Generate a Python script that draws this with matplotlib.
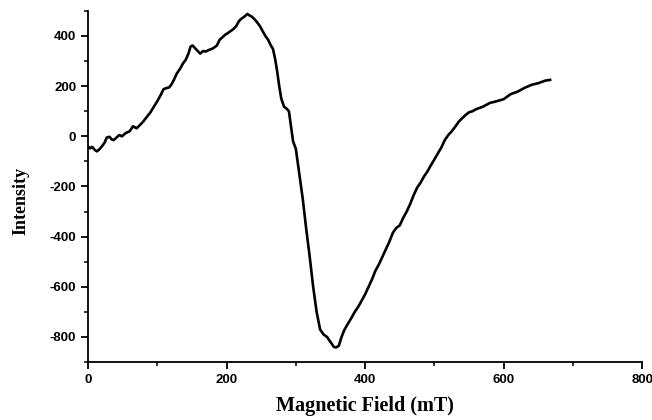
import matplotlib
matplotlib.use("Agg")
import matplotlib.pyplot as plt
from matplotlib.ticker import MultipleLocator

plt.rcParams["axes.unicode_minus"] = False

# EPR spectrum
field_mT = [0, 3, 6, 10, 13, 17, 20, 24, 27, 31, 34, 37, 41, 45, 49, 53, 56, 60,
            65, 70, 75, 80, 85, 90, 95, 100, 105, 109, 113, 117, 120, 124, 128,
            133, 137, 141, 145, 148, 151, 155, 159, 162, 166, 170, 175, 180, 186,
            190, 194, 198, 202, 206, 210, 214, 218, 222, 226, 230, 233, 236, 240,
            244, 248, 252, 256, 260, 264, 267, 270, 273, 276, 279, 283, 286, 290,
            293, 296, 300, 305, 310, 315, 320, 325, 330, 335, 340, 345, 350, 355,
            358, 362, 366, 370, 375, 380, 385, 390, 395, 400, 405, 410, 415, 420,
            425, 430, 435, 440, 445, 450, 455, 460, 465, 470, 475, 480, 485, 490,
            495, 500, 505, 510, 515, 520, 525, 530, 535, 540, 545, 550, 555, 560,
            570, 580, 590, 600, 610, 620, 630, 640, 650, 660, 667]
intensity = [-40, -48, -42, -55, -60, -50, -40, -25, -5, -2, -12, -15, -5, 5, 0, 10,
             15, 20, 40, 32, 45, 60, 78, 95, 118, 140, 165, 188, 192, 195, 205, 225,
             250, 270, 290, 305, 330, 358, 362, 350, 338, 330, 340, 338, 345, 350,
             362, 385, 395, 405, 412, 420, 428, 440, 460, 470, 478, 488, 482, 478,
             468, 455, 440, 420, 400, 385, 362, 348, 310, 260, 200, 150, 118, 112,
             100, 40, -20, -50, -150, -250, -370, -480, -600, -700, -770, -790,
             -800, -820, -840, -842, -835, -800, -772, -748, -725, -700, -680, -655,
             -630, -600, -570, -535, -510, -480, -450, -420, -385, -365, -355, -325,
             -300, -270, -235, -205, -185, -160, -140, -115, -92, -68, -45, -15, 5,
             20, 38, 58, 72, 85, 96, 100, 108, 118, 133, 140, 148, 168, 178, 193,
             205, 212, 222, 225]

fig = plt.figure(figsize=(6.52, 4.2), dpi=100)
ax = fig.add_axes([0.135, 0.138, 0.85, 0.836])

ax.plot(field_mT, intensity, color="black", lw=1.9)

ax.set_xlim(0, 800)
ax.set_ylim(-900, 500)
ax.xaxis.set_major_locator(MultipleLocator(200))
ax.xaxis.set_minor_locator(MultipleLocator(100))
ax.yaxis.set_major_locator(MultipleLocator(200))
ax.yaxis.set_minor_locator(MultipleLocator(100))

for side in ("top", "right"):
    ax.spines[side].set_visible(False)
for side in ("left", "bottom"):
    ax.spines[side].set_linewidth(1.3)

ax.tick_params(which="major", direction="out", length=5, width=1.3, labelsize=9.5)
ax.tick_params(which="minor", direction="out", length=3, width=1.1)
for lbl in ax.get_xticklabels() + ax.get_yticklabels():
    lbl.set_fontweight("bold")
    lbl.set_family("Liberation Sans")

ax.set_xlabel("Magnetic Field (mT)", family="Liberation Serif", fontweight="bold",
              fontsize=14.5, labelpad=7)
ax.set_ylabel("Intensity", family="Liberation Serif", fontweight="bold",
              fontsize=13, labelpad=12)
ax.yaxis.set_label_coords(-0.105, 0.46)

fig.savefig("out.png", dpi=100)
